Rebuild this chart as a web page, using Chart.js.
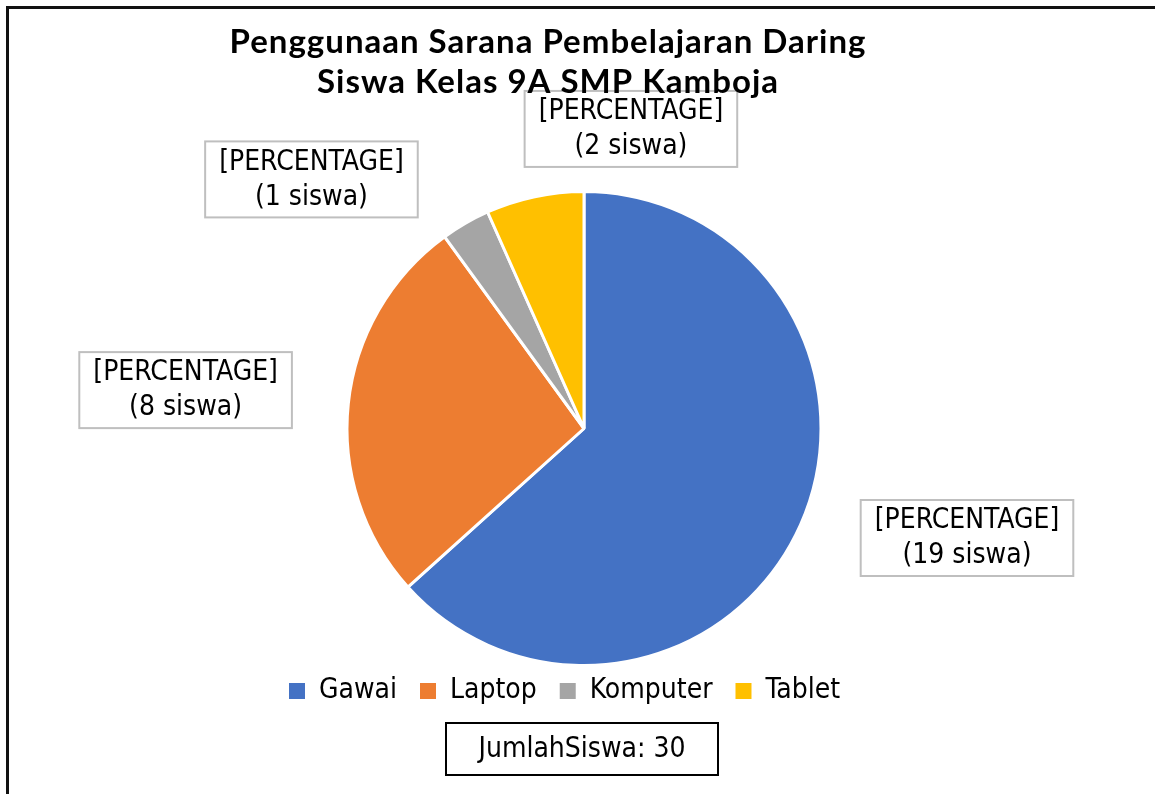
<!DOCTYPE html>
<html>
<head>
<meta charset="utf-8">
<script src="https://cdn.jsdelivr.net/npm/chart.js"></script>
<style>
  html, body { margin: 0; padding: 0; background: #fff; }
  #wrap { width: 1155px; height: 794px; }
</style>
</head>
<body>
<div id="wrap"><canvas id="pie"></canvas></div>
<script>
const labels = ['Gawai', 'Laptop', 'Komputer', 'Tablet'];
const siswa = [19, 8, 1, 2];
const colors = ['#4472C4', '#ED7D31', '#A5A5A5', '#FFC000'];
const titleLines = ['Penggunaan Sarana Pembelajaran Daring', 'Siswa Kelas 9A SMP Kamboja'];
const percentText = '[PERCENTAGE]';
const totalLabel = 'JumlahSiswa';

// where each data label box sits, relative to the pie centre, in radii
const labelOffsets = [[1.616, 0.462], [-1.681, -0.162], [-1.150, -1.051], [0.198, -1.264]];

const labelFont = '28px "DejaVu Sans Condensed", "DejaVu Sans", sans-serif';

const boxesPlugin = {
  id: 'boxes',
  beforeDraw(chart) {
    const ctx = chart.ctx;
    // outer frame of the chart (only left and top show)
    ctx.save();
    ctx.strokeStyle = '#111';
    ctx.lineWidth = 3;
    ctx.strokeRect(7.5, 7.5, 1200, 900);

    // data labels
    const meta = chart.getDatasetMeta(0);
    ctx.font = labelFont;
    ctx.textAlign = 'center';
    ctx.textBaseline = 'middle';
    meta.data.forEach((arc, i) => {
      const r = arc.outerRadius;
      const cx = arc.x + labelOffsets[i][0] * r;
      const cy = arc.y + labelOffsets[i][1] * r;
      const line2 = '(' + siswa[i] + ' siswa)';
      const w = Math.max(ctx.measureText(percentText).width, ctx.measureText(line2).width) + 28;
      const h = 76;
      ctx.fillStyle = '#fff';
      ctx.fillRect(cx - w / 2, cy - h / 2, w, h);
      ctx.strokeStyle = '#BFBFBF';
      ctx.lineWidth = 2;
      ctx.strokeRect(cx - w / 2, cy - h / 2, w, h);
      ctx.fillStyle = '#000';
      ctx.fillText(percentText, cx, cy - 17);
      ctx.fillText(line2, cx, cy + 18);
    });
    ctx.restore();
  },
  afterDraw(chart) {
    const ctx = chart.ctx;
    ctx.save();
    // title
    ctx.font = 'bold 33px Lato, sans-serif';
    ctx.letterSpacing = '1px';
    ctx.fillStyle = '#000';
    ctx.textAlign = 'center';
    ctx.textBaseline = 'alphabetic';
    ctx.fillText(titleLines[0], 548, 53);
    ctx.fillText(titleLines[1], 548, 93);
    ctx.letterSpacing = '0px';

    // total box under the legend
    const total = siswa.reduce((a, b) => a + b, 0);
    const cx = chart.chartArea.left + chart.chartArea.width / 2 - 2;
    const cy = chart.legend.bottom + 34;
    ctx.font = labelFont;
    ctx.textBaseline = 'middle';
    ctx.fillStyle = '#fff';
    ctx.fillRect(cx - 136, cy - 26, 272, 52);
    ctx.strokeStyle = '#000';
    ctx.lineWidth = 2;
    ctx.strokeRect(cx - 136, cy - 26, 272, 52);
    ctx.fillStyle = '#000';
    ctx.fillText(totalLabel + ': ' + total, cx, cy + 1);
    ctx.restore();
  }
};

new Chart(document.getElementById('pie'), {
  type: 'pie',
  data: {
    labels: labels,
    datasets: [{
      data: siswa,
      backgroundColor: colors,
      borderColor: '#fff',
      borderWidth: 3,
      radius: 237,
      clip: false
    }]
  },
  options: {
    responsive: true,
    maintainAspectRatio: false,
    animation: false,
    layout: { padding: { top: 203, bottom: 79, left: 266, right: 253 } },
    plugins: {
      title: { display: false },
      tooltip: { enabled: false },
      legend: {
        position: 'bottom',
        align: 'start',
        labels: {
          boxWidth: 16,
          boxHeight: 16,
          padding: 23,
          color: '#000',
          font: { family: '"DejaVu Sans Condensed", "DejaVu Sans", sans-serif', size: 28 },
          generateLabels(chart) {
            const items = Chart.overrides.pie.plugins.legend.labels.generateLabels(chart);
            items.forEach(it => { it.lineWidth = 0; it.strokeStyle = it.fillStyle; });
            return items;
          }
        }
      }
    }
  },
  plugins: [boxesPlugin]
});
</script>
</body>
</html>
